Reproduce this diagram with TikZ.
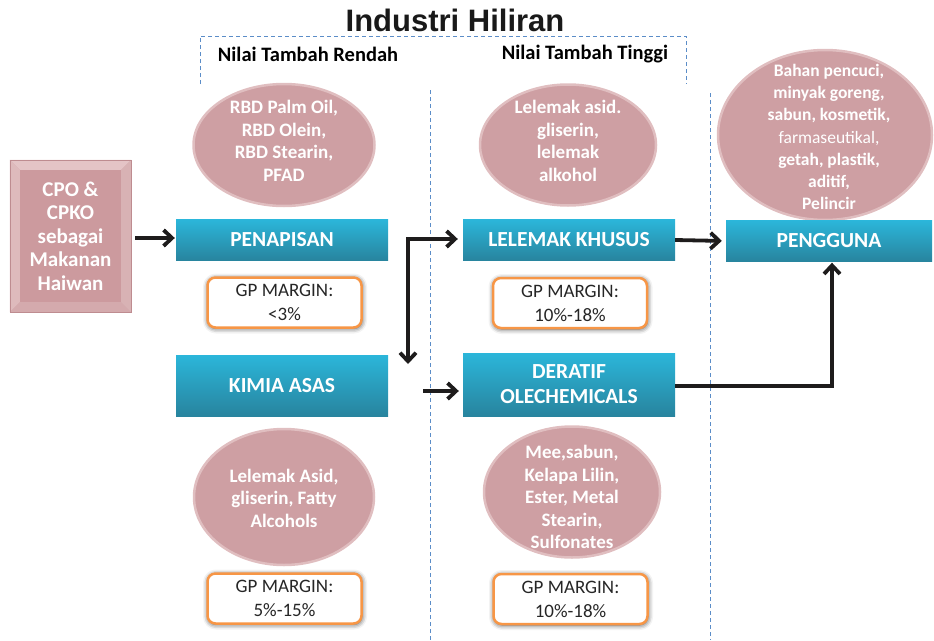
\documentclass[tikz,border=0pt]{standalone}
\usepackage{fontspec}
\setmainfont{Carlito}
\newfontfamily\titlefont{Liberation Sans}
\usetikzlibrary{arrows.meta,shapes.geometric,shadows.blur,calc}
\definecolor{boxtop}{RGB}{43,182,218}
\definecolor{boxbot}{RGB}{40,132,158}
\definecolor{ellfill}{RGB}{206,159,163}
\definecolor{ellrim}{RGB}{224,190,192}
\definecolor{gporange}{RGB}{247,150,70}
\definecolor{gptext}{RGB}{38,38,38}
\definecolor{dashblue}{RGB}{91,141,200}
\definecolor{arrowblack}{RGB}{30,28,28}
\definecolor{cpoin}{RGB}{204,154,158}
\definecolor{cpotopband}{RGB}{228,196,198}
\definecolor{cpoleftband}{RGB}{222,186,188}
\definecolor{cporightband}{RGB}{216,178,180}
\definecolor{cpobotband}{RGB}{212,170,173}
\definecolor{cpodark}{RGB}{190,140,144}
\begin{document}
\begin{tikzpicture}[x=1pt,y=-1pt,
 bluebox/.style={rectangle, minimum width=212pt, minimum height=41pt, top color=boxtop, bottom color=boxbot, text=white, font=\bfseries\fontsize{21.5}{25}\selectfont, align=center, inner sep=0pt},
 ell/.style={ellipse, fill=ellfill, draw=ellrim, line width=2.5pt, inner sep=0pt},
 elltext/.style={text=white, font=\bfseries\fontsize{19}{22.6}\selectfont, align=center, inner sep=0pt},
 gpbox/.style={rectangle, rounded corners=8pt, draw=gporange, line width=2.5pt, fill=white, minimum width=154pt, minimum height=50pt, text=gptext, font=\fontsize{19}{24}\selectfont, align=center, inner sep=0pt, blur shadow={shadow xshift=0.5pt, shadow yshift=-1pt, shadow blur radius=5pt, shadow opacity=75}},
 vdash/.style={draw=dashblue, line width=1pt, dash pattern=on 4pt off 3pt},
 arr/.style={draw=arrowblack, line width=3.8pt, -{Straight Barb[length=8.5pt,width=16pt]}},
 hdr/.style={font=\bfseries\fontsize{20.5}{24}\selectfont, text=black, inner sep=0pt},
]
\useasboundingbox (0,0) rectangle (934,640);

% title and headers
\node[font=\titlefont\bfseries\fontsize{31}{35}\selectfont, text=black!90, inner sep=0pt] (title) at (455,20) {Industri Hiliran};
\node[hdr] (low) at (308,54) {Nilai Tambah Rendah};
\node[hdr] (high) at (585,54) {Nilai Tambah Tinggi};

% dashed frame and separators
\draw[vdash] (200,84) -- (200,36) -- (686,36) -- (686,84);
\coordinate (s1top) at (430,90);
\coordinate (s1bot) at (430,640);
\coordinate (s2top) at (710,93);
\coordinate (s2bot) at (710,640);
\draw[vdash] (s1top) -- (s1bot);
\draw[vdash] (s2top) -- (s2bot);

% ellipses
\node[ell, minimum width=181pt, minimum height=122pt] (e1) at (284,145) {};
\node[elltext] (e1t) at (284,141) {RBD Palm Oil,\\RBD Olein,\\RBD Stearin,\\PFAD};
\node[ell, minimum width=176pt, minimum height=121pt] (e2) at (568,145) {};
\node[elltext] (e2t) at (568,141) {Lelemak asid.\\gliserin,\\lelemak\\alkohol};
\node[ell, minimum width=214pt, minimum height=170pt] (e3) at (825,135) {};
\node[elltext, font=\bfseries\fontsize{17.5}{22.3}\selectfont] (e3t) at (829,137) {Bahan pencuci,\\minyak goreng,\\sabun, kosmetik,\\{\mdseries farmaseutikal,}\\getah, plastik,\\aditif,\\Pelincir};
\node[ell, minimum width=180pt, minimum height=136pt] (e4) at (284,497) {};
\node[elltext] (e4t) at (284,498) {Lelemak Asid,\\gliserin, Fatty\\Alcohols};
\node[ell, minimum width=176pt, minimum height=131pt] (e5) at (572,492) {};
\node[elltext] (e5t) at (572,497) {Mee,sabun,\\Kelapa Lilin,\\Ester, Metal\\Stearin,\\Sulfonates};

% CPO box with bevel
\node[rectangle, fill=cpoin, minimum width=121pt, minimum height=152pt, inner sep=0pt, text=white, font=\bfseries\fontsize{21}{23.5}\selectfont, align=center] (cpo) at (70.5,236) {CPO \&\\CPKO\\sebagai\\Makanan\\Haiwan};
\fill[cpotopband] (cpo.north west) -- (cpo.north east) -- ++(-10,10) -- ($(cpo.north west)+(10,10)$) -- cycle;
\fill[cpoleftband] (cpo.north west) -- (cpo.south west) -- ++(10,-10) -- ($(cpo.north west)+(10,10)$) -- cycle;
\fill[cpobotband] (cpo.south west) -- (cpo.south east) -- ++(-10,-10) -- ($(cpo.south west)+(10,-10)$) -- cycle;
\fill[cporightband] (cpo.north east) -- (cpo.south east) -- ++(-10,-10) -- ($(cpo.north east)+(-10,10)$) -- cycle;
\draw[cpodark, line width=0.6pt] (cpo.north west) rectangle (cpo.south east);

% blue boxes
\node[bluebox] (pen) at (282,240) {PENAPISAN};
\node[bluebox] (lk) at (569,240) {LELEMAK KHUSUS};
\node[bluebox, minimum width=206pt] (pg) at (829,241) {PENGGUNA};
\node[bluebox, minimum height=61pt] (ka) at (282,385.5) {KIMIA ASAS};
\node[bluebox, minimum height=63pt] (der) at (569,384.5) {DERATIF\\OLECHEMICALS};

% GP margin boxes
\node[gpbox] (gp1) at (284.5,302.5) {GP MARGIN:\\<3\%};
\node[gpbox] (gp2) at (570,303) {GP MARGIN:\\10\%-18\%};
\node[gpbox] (gp3) at (284.5,598.5) {GP MARGIN:\\5\%-15\%};
\node[gpbox] (gp4) at (570.5,599) {GP MARGIN:\\10\%-18\%};

% arrows
\coordinate (cin) at (135,238);
\draw[arr, shorten >=1pt] (cin) -- (cin -| pen.west);
\coordinate (elb) at (408,239);
\coordinate (dn) at (408,364);
\draw[arr, {Straight Barb[length=8.5pt,width=16pt]}-{Straight Barb[length=8.5pt,width=16pt]}, shorten >=5pt] (dn) -- (elb) -- (elb -| lk.west);
\coordinate (kin) at (423,391);
\draw[arr, shorten >=4pt] (kin) -- (kin -| der.west);
\draw[arr, shorten >=4pt] (lk.east) -- (pg.west);
\coordinate (up) at (832,386);
\draw[arr, shorten >=1pt] (up -| der.east) -- (up) -- (up |- pg.south);
\end{tikzpicture}
\end{document}
